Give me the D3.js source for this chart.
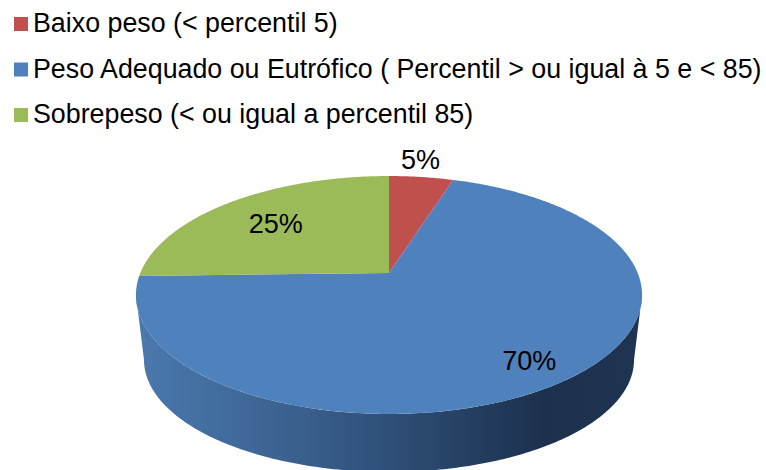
<!DOCTYPE html>
<html><head><meta charset="utf-8">
<script src="https://cdn.jsdelivr.net/npm/d3@7"></script>
<style>html,body{margin:0;padding:0;background:#fff}svg{display:block}text{font-family:"Liberation Sans",Arial,sans-serif;fill:#000}</style>
</head><body><svg width="766" height="470"></svg>
<script>
const categories = ["Baixo peso (< percentil 5)", "Peso Adequado ou Eutrófico ( Percentil > ou igual à 5 e < 85)", "Sobrepeso (< ou igual a percentil 85)"];
const values = [4.9, 69.7, 25.4];
const labels = ["5%", "70%", "25%"];
const colors = ["#c0504d", "#4f81bd", "#9bbb59"];

const W = 766, H = 470;
const svg = d3.select("svg").attr("viewBox", [0, 0, W, H]);
const defs = svg.append("defs");

// Perspective view of a tilted disc
const apex = {x: 389, y: 273}, k = 0.1849, sx = 248.7, sy = 114.9;
function project(theta, r) {
  const u = Math.sin(theta) * r, v = -Math.cos(theta) * r, w = 1 - k * v;
  return [apex.x + sx * u / w, apex.y + sy * v / w];
}
const pie = d3.pie().sort(null).value(d => d);
const arcs = pie(values);
const line = d3.line();

function rim(a0, a1) {
  const n = Math.max(2, Math.ceil(Math.abs(a1 - a0) / 0.01));
  return d3.range(n + 1).map(i => project(a0 + (a1 - a0) * i / n, 1));
}

// Side wall
const faceEllipse = {cx: 389, cy: 295, rx: 253, ry: 119};
const baseEllipse = {cx: 389, cy: 360, rx: 245, ry: 112};
const half = e => d3.range(0, 181).map(i => {
  const t = i * Math.PI / 180;
  return [e.cx + e.rx * Math.cos(t), e.cy + e.ry * Math.sin(t)];
});
const grad = defs.append("linearGradient").attr("id", "wall")
  .attr("gradientUnits", "userSpaceOnUse").attr("x1", 136).attr("x2", 642).attr("y1", 0).attr("y2", 0);
[[0, "#4a79ae"], [0.25, "#3d6695"], [0.5, "#2f4f78"], [0.8, "#1c314e"], [1, "#1e3450"]]
  .forEach(([o, c]) => grad.append("stop").attr("offset", o).attr("stop-color", c));
svg.append("path")
  .attr("d", line([...half(faceEllipse), ...half(baseEllipse).reverse()]) + "Z")
  .attr("fill", "url(#wall)");

// Top face
svg.append("g").selectAll("path").data(arcs).join("path")
  .attr("d", d => line([[apex.x, apex.y], ...rim(d.startAngle, d.endAngle)]) + "Z")
  .attr("fill", (d, i) => colors[i]);

// Data labels
const labelRadius = [1.2, 0.85, 0.7], labelDx = [-6, -5, 1], labelDy = [-1, -1, 2];
svg.append("g").selectAll("text").data(arcs).join("text")
  .attr("x", (d, i) => project((d.startAngle + d.endAngle) / 2, labelRadius[i])[0] + labelDx[i])
  .attr("y", (d, i) => project((d.startAngle + d.endAngle) / 2, labelRadius[i])[1] + labelDy[i])
  .attr("text-anchor", "middle").attr("dominant-baseline", "central")
  .attr("font-size", 27).text((d, i) => labels[i]);

// Legend
const legendY = d3.scalePoint().domain(d3.range(categories.length)).range([24, 115]);
const legend = svg.append("g").selectAll("g").data(categories).join("g")
  .attr("transform", (d, i) => `translate(14,${legendY(i)})`);
legend.append("rect").attr("x", 0).attr("y", -7).attr("width", 14).attr("height", 14)
  .attr("fill", (d, i) => colors[i]);
legend.append("text").attr("x", 19).attr("y", 8)
  .attr("font-size", 26.8).text(d => d);
</script></body></html>
